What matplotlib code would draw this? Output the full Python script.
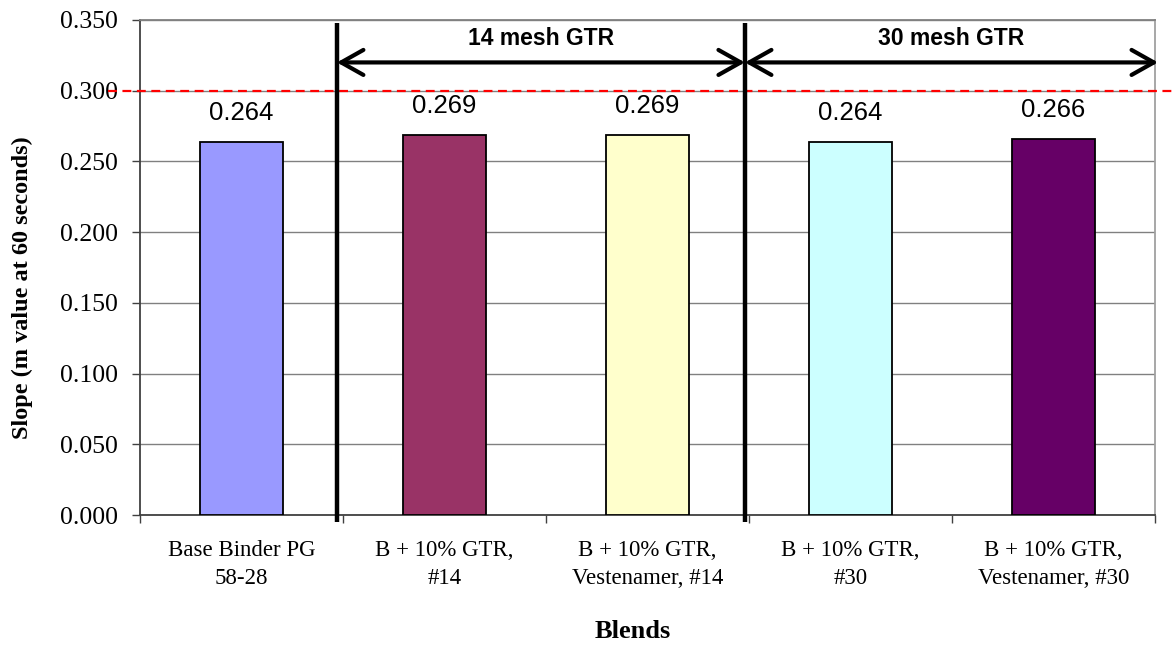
import matplotlib
matplotlib.use("Agg")
import matplotlib.pyplot as plt
from matplotlib.lines import Line2D

categories = ["Base Binder PG\n58-28", "B + 10% GTR,\n#14", "B + 10% GTR,\nVestenamer, #14",
              "B + 10% GTR,\n#30", "B + 10% GTR,\nVestenamer, #30"]
values = [0.264, 0.269, 0.269, 0.264, 0.266]
labels = ["0.264", "0.269", "0.269", "0.264", "0.266"]
colors = ["#9999FF", "#993366", "#FFFFCC", "#CCFFFF", "#660066"]
y_ticks = [0.0, 0.05, 0.10, 0.15, 0.20, 0.25, 0.30, 0.35]
threshold = 0.300
group_names = ["14 mesh GTR", "30 mesh GTR"]
group_bounds = [(0.47, 2.48), (2.48, 4.515)]
arrow_y = 0.32

W, H = 1173, 645
fig = plt.figure(figsize=(W / 100, H / 100), dpi=100)
ax = fig.add_axes([140 / W, 1 - 515 / H, (1155 - 140) / W, (515 - 20) / H])

x = list(range(len(categories)))
ax.bar(x, values, width=0.41, color=colors, edgecolor="black", linewidth=1.3, zorder=3)

ax.set_xlim(-0.5, len(categories) - 0.5)
ax.set_ylim(0, 0.35)
ax.set_yticks(y_ticks)
ax.set_yticklabels([f"{v:.3f}" for v in y_ticks], family="Liberation Serif", fontsize=18.5)
ax.yaxis.grid(True, color="#808080", linewidth=1.0, zorder=0)
ax.set_axisbelow(True)
ax.tick_params(axis="y", length=6, width=1, color="#404040", pad=10)

ax.set_xticks(x)
ax.set_xticklabels(categories, family="Liberation Serif", fontsize=16.5, linespacing=1.45)
ax.tick_params(axis="x", which="major", length=0, pad=18)
ax.set_xticks([i - 0.5 for i in range(len(categories) + 1)], minor=True)
ax.tick_params(axis="x", which="minor", length=6, width=1, color="#404040")

ax.spines["left"].set_color("#404040")
ax.spines["left"].set_linewidth(1.3)
ax.spines["bottom"].set_color("#404040")
ax.spines["bottom"].set_linewidth(1.3)
ax.spines["top"].set_color("#808080")
ax.spines["top"].set_linewidth(1.3)
ax.spines["right"].set_color("#A0A0A0")
ax.spines["right"].set_linewidth(1.3)

for xi, v, lab in zip(x, values, labels):
    ax.annotate(lab, (xi, v), xytext=(0, 15.5), textcoords="offset points",
                ha="center", va="baseline", family="Liberation Sans", fontsize=18.5, zorder=5)

# red dashed threshold line extending beyond axes
ax.add_line(Line2D([-0.032, 1.018], [threshold, threshold], color="red", linestyle=(0, (4, 2.5)),
                   linewidth=1.6, transform=ax.get_yaxis_transform(), clip_on=False, zorder=4))

# thick vertical separators
for xs in [group_bounds[0][0], group_bounds[1][0]]:
    ax.add_line(Line2D([xs, xs], [-0.005, 0.348], color="black", linewidth=3.2,
                       clip_on=False, zorder=6, solid_capstyle="butt"))

for name, (x0, x1) in zip(group_names, group_bounds):
    ax.annotate("", xy=(x1, arrow_y), xytext=(x0, arrow_y),
                arrowprops=dict(arrowstyle="<->,head_length=0.8,head_width=0.45", color="black",
                                linewidth=3.0, shrinkA=0, shrinkB=0, mutation_scale=20),
                annotation_clip=False, zorder=6)
    ax.text((x0 + x1) / 2, 0.337, name, ha="center", va="center", family="Liberation Sans",
            fontsize=16.5, fontweight="bold", zorder=6)

fig.text(22 / W, 1 - 288 / H, "Slope (m value at 60 seconds)", rotation=90, ha="center", va="center",
         family="Liberation Serif", fontsize=17.5, fontweight="bold")
fig.text(633 / W, 1 - 632 / H, "Blends", ha="center", va="center",
         family="Liberation Serif", fontsize=19, fontweight="bold")

fig.savefig("out.png", dpi=100)
